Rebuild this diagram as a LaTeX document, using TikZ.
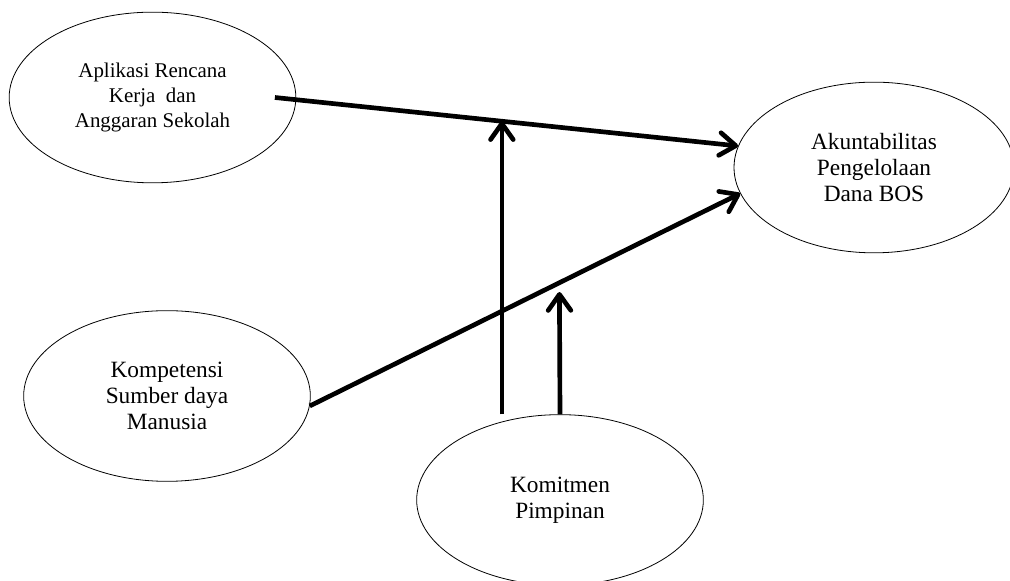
\documentclass[tikz,border=0pt]{standalone}
\usepackage{fontspec}
\setmainfont{Liberation Serif}
\usetikzlibrary{shapes.geometric,arrows.meta,calc}
\begin{document}
\begin{tikzpicture}[x=0.75pt,y=0.75pt,
        var/.style={draw=black,line width=0.6pt,ellipse,inner sep=0pt,minimum width=215pt,minimum height=128pt,align=center,font=\fontsize{17.5}{19.6}\selectfont},
        arr/.style={line width=3.5pt,-{Straight Barb[length=12pt,width=17pt,round]}}]
        \useasboundingbox (0,0) rectangle (1010,581);
        \node[var,font=\fontsize{15.7}{18.8}\selectfont] (aprk) at (152.5,483.5) {Aplikasi Rencana\\Kerja\ \ dan\\Anggaran Sekolah};
        \node[var,minimum width=210pt] (akun) at (874,413.5) {Akuntabilitas\\Pengelolaan\\Dana BOS};
        \node[var] (komp) at (167,185) {Kompetensi\\Sumber daya\\Manusia};
        \node[var] (komit) at (560,81) {Komitmen\\Pimpinan};
        % points on the two paths where the moderator acts
        \coordinate (m1) at ($([xshift=-16pt]aprk.east)!0.49!(akun.171)$);
        \coordinate (m2) at ($(komp.-4)!0.58!(akun.191)$);
        \draw[arr] ([xshift=-16pt]aprk.east)--(akun.171);\draw[arr] (komp.-4)--(akun.191);
        \draw[arr] (m1 |- komit.north)--(m1);\draw[arr] (komit.north)--([yshift=-7pt]m2);
      \end{tikzpicture}
\end{document}
